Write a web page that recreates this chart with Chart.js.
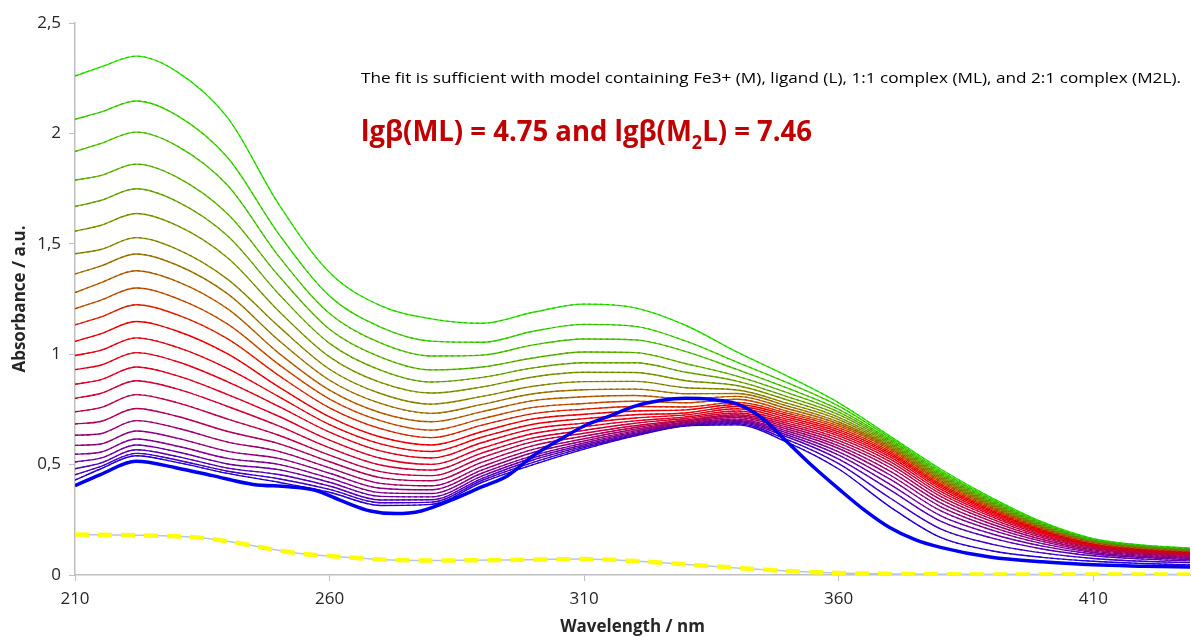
<!DOCTYPE html>
<html>
<head>
<meta charset="utf-8">
<script src="https://cdn.jsdelivr.net/npm/chart.js@4.4.1/dist/chart.umd.min.js"></script>
<style>
  html, body { margin: 0; padding: 0; background: #fff; }
  #wrap { width: 1192px; height: 637px; }
</style>
</head>
<body>
<div id="wrap"><canvas id="myChart" width="1192" height="637"></canvas></div>
<script>
// wavelengths (nm) for the titration spectra
var WL = [210, 215, 222, 230, 240, 250, 260, 270, 280, 290, 300, 310, 320, 330, 340, 350, 360, 370, 380, 390, 400, 410, 420, 429];

// measured spectra, top (green) to bottom (purple)
var A01 = [2.260, 2.300, 2.350, 2.280, 2.070, 1.680, 1.370, 1.220, 1.160, 1.140, 1.190, 1.227, 1.210, 1.130, 1.010, 0.900, 0.780, 0.630, 0.480, 0.350, 0.240, 0.165, 0.135, 0.122];
var A02 = [2.064, 2.096, 2.147, 2.082, 1.890, 1.545, 1.264, 1.123, 1.059, 1.054, 1.104, 1.135, 1.126, 1.059, 0.964, 0.870, 0.765, 0.622, 0.472, 0.344, 0.236, 0.162, 0.133, 0.120];
var A03 = [1.918, 1.954, 2.006, 1.944, 1.764, 1.444, 1.184, 1.051, 0.992, 0.996, 1.042, 1.069, 1.065, 1.012, 0.931, 0.846, 0.750, 0.614, 0.465, 0.338, 0.232, 0.160, 0.131, 0.118];
var A04 = [1.788, 1.809, 1.861, 1.802, 1.635, 1.355, 1.113, 0.987, 0.929, 0.942, 0.983, 1.010, 1.007, 0.957, 0.901, 0.825, 0.738, 0.608, 0.458, 0.333, 0.229, 0.158, 0.129, 0.117];
var A05 = [1.669, 1.696, 1.749, 1.692, 1.535, 1.273, 1.049, 0.928, 0.874, 0.895, 0.938, 0.961, 0.961, 0.918, 0.878, 0.807, 0.726, 0.601, 0.452, 0.328, 0.226, 0.156, 0.128, 0.115];
var A06 = [1.557, 1.583, 1.637, 1.583, 1.436, 1.196, 0.988, 0.872, 0.824, 0.852, 0.897, 0.918, 0.917, 0.880, 0.858, 0.792, 0.714, 0.595, 0.446, 0.324, 0.222, 0.154, 0.126, 0.114];
var A07 = [1.455, 1.474, 1.528, 1.476, 1.339, 1.126, 0.932, 0.822, 0.774, 0.809, 0.855, 0.876, 0.877, 0.848, 0.838, 0.777, 0.704, 0.588, 0.440, 0.319, 0.219, 0.152, 0.124, 0.112];
var A08 = [1.363, 1.399, 1.454, 1.404, 1.273, 1.063, 0.882, 0.777, 0.732, 0.773, 0.821, 0.839, 0.842, 0.821, 0.822, 0.765, 0.693, 0.582, 0.434, 0.314, 0.216, 0.150, 0.123, 0.111];
var A09 = [1.279, 1.323, 1.378, 1.330, 1.205, 1.005, 0.837, 0.735, 0.694, 0.740, 0.790, 0.807, 0.813, 0.798, 0.809, 0.753, 0.684, 0.576, 0.427, 0.309, 0.213, 0.148, 0.121, 0.109];
var A10 = [1.206, 1.244, 1.300, 1.253, 1.136, 0.954, 0.797, 0.699, 0.656, 0.708, 0.759, 0.777, 0.787, 0.780, 0.796, 0.741, 0.675, 0.569, 0.421, 0.304, 0.210, 0.145, 0.119, 0.108];
var A11 = [1.133, 1.168, 1.224, 1.179, 1.069, 0.904, 0.757, 0.663, 0.622, 0.679, 0.731, 0.751, 0.763, 0.761, 0.782, 0.732, 0.666, 0.561, 0.413, 0.298, 0.206, 0.143, 0.117, 0.106];
var A12 = [1.058, 1.092, 1.148, 1.105, 1.001, 0.852, 0.716, 0.625, 0.589, 0.650, 0.707, 0.728, 0.743, 0.748, 0.772, 0.723, 0.657, 0.553, 0.406, 0.292, 0.202, 0.140, 0.115, 0.104];
var A13 = [0.994, 1.017, 1.074, 1.032, 0.935, 0.808, 0.681, 0.594, 0.559, 0.625, 0.683, 0.708, 0.726, 0.734, 0.763, 0.714, 0.648, 0.545, 0.398, 0.286, 0.198, 0.138, 0.113, 0.102];
var A14 = [0.930, 0.950, 1.007, 0.967, 0.875, 0.764, 0.647, 0.562, 0.530, 0.600, 0.662, 0.688, 0.711, 0.725, 0.753, 0.705, 0.639, 0.536, 0.389, 0.279, 0.193, 0.135, 0.111, 0.100];
var A15 = [0.864, 0.884, 0.942, 0.903, 0.817, 0.719, 0.611, 0.529, 0.501, 0.575, 0.641, 0.672, 0.698, 0.716, 0.743, 0.696, 0.630, 0.526, 0.379, 0.272, 0.188, 0.132, 0.108, 0.097];
var A16 = [0.800, 0.822, 0.880, 0.843, 0.763, 0.675, 0.576, 0.498, 0.475, 0.553, 0.621, 0.655, 0.687, 0.709, 0.734, 0.687, 0.620, 0.515, 0.368, 0.264, 0.182, 0.128, 0.105, 0.095];
var A17 = [0.739, 0.758, 0.817, 0.781, 0.706, 0.633, 0.543, 0.468, 0.450, 0.532, 0.604, 0.642, 0.676, 0.702, 0.726, 0.678, 0.609, 0.502, 0.356, 0.254, 0.176, 0.124, 0.102, 0.092];
var A18 = [0.684, 0.695, 0.754, 0.719, 0.650, 0.595, 0.513, 0.441, 0.427, 0.511, 0.586, 0.629, 0.668, 0.698, 0.720, 0.669, 0.597, 0.488, 0.342, 0.243, 0.169, 0.119, 0.098, 0.088];
var A19 = [0.633, 0.640, 0.699, 0.666, 0.602, 0.560, 0.485, 0.415, 0.404, 0.492, 0.569, 0.617, 0.660, 0.693, 0.713, 0.660, 0.585, 0.472, 0.327, 0.231, 0.161, 0.114, 0.094, 0.084];
var A20 = [0.587, 0.593, 0.652, 0.620, 0.560, 0.528, 0.461, 0.393, 0.386, 0.476, 0.555, 0.607, 0.653, 0.689, 0.706, 0.651, 0.573, 0.454, 0.310, 0.218, 0.152, 0.108, 0.089, 0.080];
var A21 = [0.547, 0.556, 0.616, 0.584, 0.528, 0.501, 0.439, 0.373, 0.369, 0.462, 0.541, 0.598, 0.647, 0.685, 0.700, 0.642, 0.558, 0.435, 0.291, 0.204, 0.142, 0.102, 0.084, 0.076];
var A22 = [0.512, 0.529, 0.589, 0.558, 0.503, 0.477, 0.420, 0.356, 0.354, 0.449, 0.531, 0.590, 0.642, 0.682, 0.695, 0.633, 0.543, 0.412, 0.269, 0.187, 0.131, 0.095, 0.079, 0.070];
var A23 = [0.481, 0.507, 0.567, 0.537, 0.484, 0.455, 0.403, 0.340, 0.341, 0.438, 0.521, 0.583, 0.637, 0.680, 0.690, 0.624, 0.525, 0.387, 0.244, 0.168, 0.118, 0.087, 0.072, 0.064];
var A24 = [0.454, 0.491, 0.551, 0.521, 0.470, 0.436, 0.388, 0.327, 0.330, 0.429, 0.510, 0.577, 0.633, 0.677, 0.685, 0.612, 0.504, 0.350, 0.209, 0.140, 0.100, 0.075, 0.062, 0.056];
var A25 = [0.430, 0.480, 0.540, 0.510, 0.460, 0.420, 0.375, 0.315, 0.320, 0.420, 0.500, 0.570, 0.630, 0.675, 0.680, 0.600, 0.480, 0.310, 0.170, 0.110, 0.080, 0.062, 0.052, 0.046];

// last spectrum (thick blue), own wavelength grid
var BLUE_WL = [210, 215, 222, 230, 237, 245, 252, 257, 263, 268, 273, 278, 284, 290, 295, 300, 305, 310, 315, 320, 325, 330, 335, 340, 345, 350, 355, 360, 365, 370, 375, 380, 390, 400, 410, 420, 429];
var BLUE = [0.405, 0.455, 0.515, 0.485, 0.450, 0.410, 0.400, 0.385, 0.330, 0.290, 0.278, 0.290, 0.340, 0.400, 0.450, 0.540, 0.610, 0.675, 0.720, 0.765, 0.790, 0.800, 0.795, 0.775, 0.710, 0.600, 0.490, 0.390, 0.295, 0.215, 0.160, 0.125, 0.080, 0.060, 0.046, 0.040, 0.036];

// ligand spectrum (yellow dashed)
var YEL_WL = [210, 222, 230, 236, 242, 249, 255, 262, 272, 282, 295, 310, 320, 330, 340, 350, 360, 370, 380, 400, 429];
var YEL = [0.183, 0.180, 0.175, 0.165, 0.145, 0.115, 0.095, 0.083, 0.068, 0.066, 0.068, 0.072, 0.063, 0.048, 0.032, 0.018, 0.009, 0.005, 0.003, 0.002, 0.002];

var X_TICKS = [210, 260, 310, 360, 410];
var NOTE_TEXT = "The fit is sufficient with model containing Fe3+ (M), ligand (L), 1:1 complex (ML), and 2:1 complex (M2L).";

var SPECTRA = [A01, A02, A03, A04, A05, A06, A07, A08, A09, A10, A11, A12, A13, A14, A15, A16, A17, A18, A19, A20, A21, A22, A23, A24, A25];

var colorStops = [
    [0, [45, 235, 0]], [3, [95, 190, 0]], [6, [145, 145, 0]], [9, [210, 80, 0]],
    [11, [255, 0, 0]], [14, [240, 0, 40]], [17, [190, 0, 95]], [20, [140, 0, 160]],
    [23, [70, 0, 215]], [25, [10, 0, 250]]
];

var lineColor = function (i, k) {
    var a = colorStops[0], b = colorStops[colorStops.length - 1];
    for (var s = 0; s < colorStops.length - 1; s++) {
        if (i >= colorStops[s][0] && i <= colorStops[s + 1][0]) {
            a = colorStops[s];
            b = colorStops[s + 1];
            break;
        }
    }
    var t = b[0] === a[0] ? 0 : (i - a[0]) / (b[0] - a[0]);
    var rgb = [0, 1, 2].map(function (j) {
        return Math.round((a[1][j] + (b[1][j] - a[1][j]) * t) * k);
    });
    return 'rgb(' + rgb.join(',') + ')';
};

var toPoints = function (xs, ys) {
    return ys.map(function (v, k) { return {x: xs[k], y: v}; });
};

var datasets = [];
SPECTRA.forEach(function (arr, i) {
    datasets.push({
        data: toPoints(WL, arr),
        borderColor: lineColor(i, 1),
        borderWidth: 1.4,
        order: 10
    });
    datasets.push({
        data: toPoints(WL, arr),
        borderColor: lineColor(i, 0.8),
        borderWidth: 1,
        borderDash: [3, 3],
        order: 6
    });
});
datasets.push({data: toPoints(YEL_WL, YEL), borderColor: '#b4c7e7', borderWidth: 1.5, order: 4});
datasets.push({data: toPoints(YEL_WL, YEL), borderColor: '#ffff00', borderWidth: 4.5, borderDash: [14, 9], order: 3});
datasets.push({data: toPoints(BLUE_WL, BLUE), borderColor: '#0000f0', borderWidth: 3.5, order: 1});

var notesPlugin = {
    id: 'notes',
    afterDraw: function (chart) {
        var ctx = chart.ctx;
        ctx.save();
        ctx.textBaseline = 'alphabetic';
        ctx.textAlign = 'left';

        ctx.fillStyle = '#000';
        ctx.font = "15px 'Open Sans'";
        var w = ctx.measureText(NOTE_TEXT).width;
        ctx.save();
        ctx.translate(361, 83);
        ctx.scale(820 / w, 1);
        ctx.fillText(NOTE_TEXT, 0, 0);
        ctx.restore();

        var p1 = "lgβ(ML) = 4.75 and lgβ(M", p2 = "2", p3 = "L) = 7.46";
        var big = "bold 29px 'Open Sans'", small = "bold 19px 'Open Sans'";
        ctx.font = big;
        var w1 = ctx.measureText(p1).width, w3 = ctx.measureText(p3).width;
        ctx.font = small;
        var w2 = ctx.measureText(p2).width;
        var sx = 451 / (w1 + w2 + w3);
        ctx.fillStyle = '#c00000';
        ctx.translate(361, 141);
        ctx.scale(sx, 1);
        ctx.font = big;
        ctx.fillText(p1, 0, 0);
        ctx.font = small;
        ctx.fillText(p2, w1, 8);
        ctx.font = big;
        ctx.fillText(p3, w1 + w2, 0);
        ctx.restore();
    }
};

Chart.defaults.font.family = "'Open Sans', sans-serif";
Chart.defaults.color = '#404040';

var ctx = document.getElementById('myChart');
var myChart = new Chart(ctx, {
    type: 'line',
    data: {datasets: datasets},
    plugins: [notesPlugin],
    options: {
        responsive: false,
        animation: false,
        devicePixelRatio: 1,
        layout: {padding: {top: 23, right: 2, left: 0, bottom: 0}},
        elements: {
            point: {radius: 0},
            line: {cubicInterpolationMode: 'monotone', fill: false}
        },
        plugins: {
            legend: {display: false},
            tooltip: {enabled: false}
        },
        scales: {
            x: {
                type: 'linear',
                min: 210,
                max: 429,
                afterBuildTicks: function (scale) {
                    scale.ticks = X_TICKS.map(function (v) { return {value: v}; });
                },
                afterFit: function (scale) { scale.height = 62; },
                border: {color: '#bfbfbf', width: 1.5},
                grid: {drawOnChartArea: false, drawTicks: true, tickLength: 6, color: '#bfbfbf'},
                ticks: {font: {size: 17}, color: '#262626', padding: 8, maxRotation: 0},
                title: {
                    display: true,
                    text: 'Wavelength / nm',
                    font: {size: 17, weight: 'bold'},
                    color: '#262626',
                    padding: {top: 0, bottom: 0}
                }
            },
            y: {
                min: 0,
                max: 2.5,
                afterFit: function (scale) { scale.width = 75; },
                border: {color: '#bfbfbf', width: 1.5},
                grid: {drawOnChartArea: false, drawTicks: true, tickLength: 6, color: '#bfbfbf'},
                ticks: {
                    stepSize: 0.5,
                    font: {size: 17},
                    color: '#262626',
                    padding: 8,
                    callback: function (v) { return String(v).replace('.', ','); }
                },
                title: {
                    display: true,
                    text: 'Absorbance / a.u.',
                    font: {size: 17, weight: 'bold'},
                    color: '#262626',
                    padding: {top: 10, bottom: 0}
                }
            }
        }
    }
});
</script>
</body>
</html>
